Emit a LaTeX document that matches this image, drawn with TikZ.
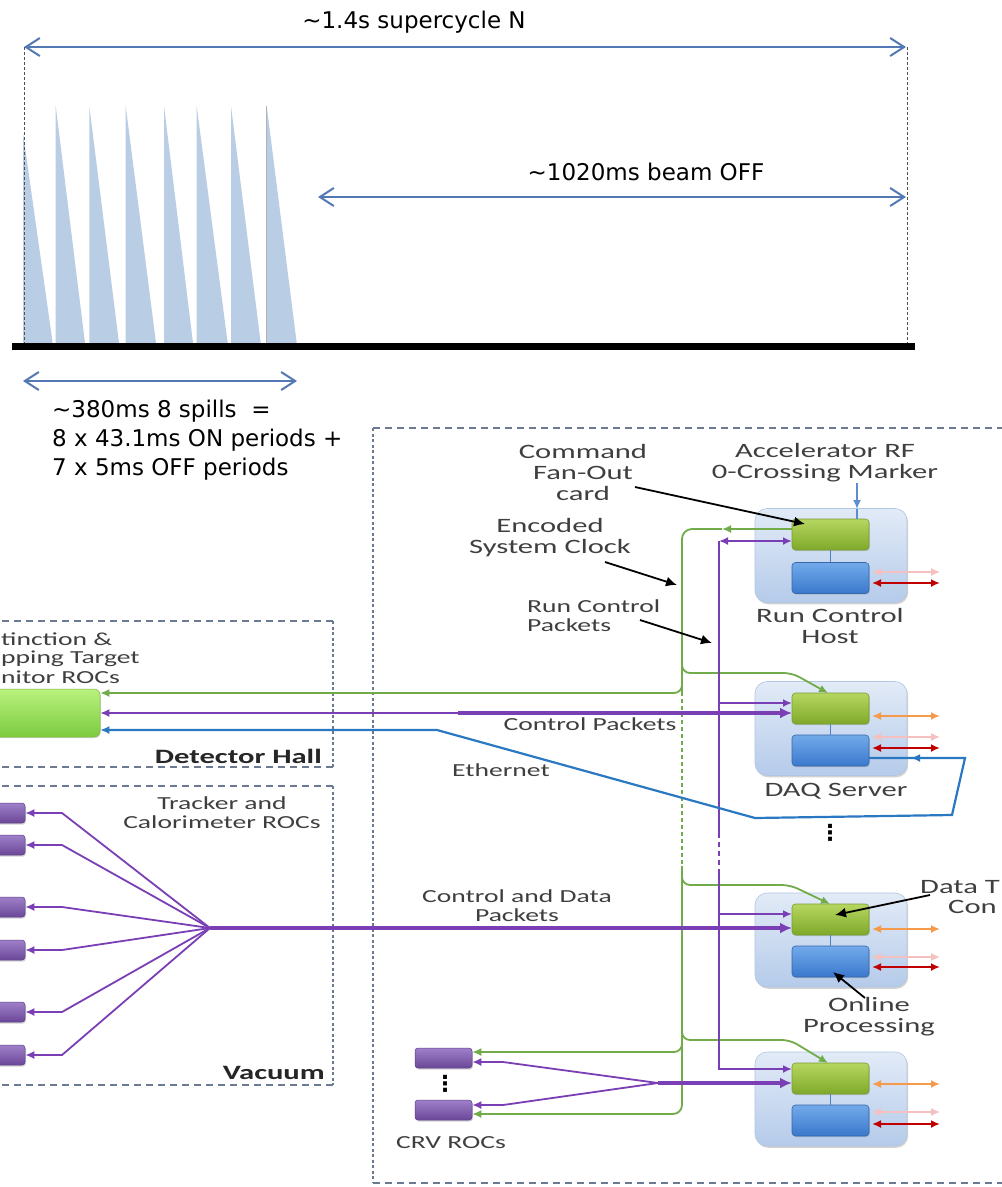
\documentclass[tikz,border=0pt]{standalone}
\usepackage{fontspec}
\setmainfont{DejaVu Sans}
\newfontfamily\topfont{DejaVu Sans}
\newfontfamily\lowfont[FakeStretch=1.5]{Carlito}
\usetikzlibrary{arrows.meta,shadows}
\definecolor{arrowblue}{HTML}{5379B5}
\definecolor{spike}{HTML}{B9CDE4}
\definecolor{dline}{HTML}{505050}
\definecolor{boxdash}{HTML}{6B7A92}
\definecolor{txt}{HTML}{3F3F3F}
\definecolor{txtdark}{HTML}{262626}
\definecolor{lgreen}{HTML}{72AC4A}
\definecolor{lpurple}{HTML}{7B3FB5}
\definecolor{lblue}{HTML}{2A78C2}
\definecolor{lorange}{HTML}{F5994A}
\definecolor{lred}{HTML}{C00000}
\definecolor{lpink}{HTML}{F4C0C0}
\definecolor{rfblue}{HTML}{5B8ED1}
\definecolor{hosttop}{HTML}{E2EBF7}
\definecolor{hostbot}{HTML}{B5CBEA}
\definecolor{hostedge}{HTML}{B0C6E3}
\definecolor{gctop}{HTML}{B6D660}
\definecolor{gcbot}{HTML}{7FA92A}
\definecolor{gcedge}{HTML}{7A9C35}
\definecolor{bctop}{HTML}{72AAEA}
\definecolor{bcbot}{HTML}{3A78CC}
\definecolor{bcedge}{HTML}{3567AA}
\definecolor{prtop}{HTML}{9F80C9}
\definecolor{prbot}{HTML}{6A4798}
\definecolor{predge}{HTML}{5E3F88}
\definecolor{extop}{HTML}{B9F27E}
\definecolor{exbot}{HTML}{7CCB40}
\definecolor{exedge}{HTML}{79B63F}
\definecolor{conn}{HTML}{4F81BD}
\tikzset{
  ts/.tip={Latex[length=9pt,width=8pt]},
  tb/.tip={Latex[length=12pt,width=11pt]},
  tbarb/.tip={Straight Barb[length=14pt,width=18pt]},
  tl/.style={font=\topfont\fontsize{23}{28}\selectfont, text=black, inner sep=0pt},
  lblS/.style={font=\lowfont\fontsize{18.4}{19}\selectfont, text=txt, inner sep=0pt, align=center},
  lblL/.style={font=\lowfont\fontsize{20.4}{21}\selectfont, text=txt, inner sep=0pt, align=center},
  lblB/.style={font=\lowfont\bfseries\fontsize{20.4}{21}\selectfont, text=txtdark, inner sep=0pt},
  dotsty/.style={font=\topfont\bfseries\fontsize{22}{22}\selectfont, text=black, inner sep=0pt},
  tarrow/.style={draw=arrowblue, line width=2pt, tbarb-tbarb},
  vdl/.style={draw=dline, line width=.8pt, dash pattern=on 3pt off 2pt},
  hdash/.style={draw=boxdash, line width=1.8pt, dash pattern=on 7pt off 5pt},
  vdash/.style={draw=boxdash, line width=1.8pt, dash pattern=on 3pt off 2.5pt},
  host/.style={draw=hostedge, line width=.6pt, rounded corners=12pt, top color=hosttop, bottom color=hostbot,
    minimum width=152pt, minimum height=94pt, inner sep=0pt,
    drop shadow={opacity=.35, shadow xshift=1.2pt, shadow yshift=-1.8pt}},
  gcard/.style={draw=gcedge, line width=.6pt, rounded corners=3.5pt, top color=gctop, bottom color=gcbot,
    minimum width=77pt, minimum height=31pt, inner sep=0pt,
    drop shadow={opacity=.3, shadow xshift=.8pt, shadow yshift=-1.2pt}},
  bcard/.style={draw=bcedge, line width=.6pt, rounded corners=3.5pt, top color=bctop, bottom color=bcbot,
    minimum width=77pt, minimum height=31pt, inner sep=0pt,
    drop shadow={opacity=.3, shadow xshift=.8pt, shadow yshift=-1.2pt}},
  proc/.style={draw=predge, line width=.5pt, rounded corners=3pt, top color=prtop, bottom color=prbot,
    minimum width=55pt, minimum height=20pt, inner sep=0pt,
    drop shadow={opacity=.35, shadow xshift=1pt, shadow yshift=-1.5pt}},
  exroc/.style={draw=exedge, line width=.5pt, rounded corners=6pt, top color=extop, bottom color=exbot,
    minimum width=120pt, minimum height=48pt, inner sep=0pt,
    drop shadow={opacity=.3, shadow xshift=.8pt, shadow yshift=-1.2pt}},
  gline/.style={draw=lgreen, line width=1.8pt},
  pthin/.style={draw=lpurple, line width=1.8pt},
  pthick/.style={draw=lpurple, line width=3.8pt},
  eline/.style={draw=lblue, line width=2.2pt},
  oarr/.style={draw=lorange, line width=1.8pt, ts-ts},
  rarr/.style={draw=lred, line width=2pt, ts-ts},
  parr/.style={draw=lpink, line width=1.4pt, ts-ts},
  barr/.style={draw=black, line width=1.8pt, -{Latex[length=11pt,width=10pt]}},
}
\begin{document}
\begin{tikzpicture}[x=1pt,y=-1pt]
\useasboundingbox (0,0) rectangle (1002,1187);
\clip (0,0) rectangle (1002,1187);
\fill[white] (0,0) rectangle (1002,1187);

% ---------------- timeline ----------------
\foreach \a/\t/\b in {23/133/52.7, 55.7/106/85, 89.3/106/119, 125.7/106/156, 164/106/193, 196.7/106/227.7, 231/106/260.7, 266.7/106/296.7}
  \fill[spike] (\a,\t) -- (\a,343) -- (\b,343) -- cycle;
\draw[gray!60, line width=.8pt] (266.7,106) -- (266.7,343);

\coordinate (tA) at (24,47);
\coordinate (tB) at (906,47);
\coordinate (tAb) at (24,343);
\coordinate (tBt) at (907,47);
\coordinate (tBb) at (907,343);
\coordinate (mA) at (318,197);
\coordinate (mB) at (906,197);
\coordinate (bA) at (23,381);
\coordinate (bB) at (297,381);
\coordinate (base1) at (12,346.5);
\coordinate (base2) at (915,346.5);

\draw[vdl] (tA) -- (tAb);
\draw[vdl] (tBt) -- (tBb);
\draw[line width=7pt] (base1) -- (base2);
\draw[tarrow] (tA) -- (tB);
\draw[tarrow] (mA) -- (mB);
\draw[tarrow] (bA) -- (bB);

\node[tl] (sc) at (414,22) {\textasciitilde1.4s supercycle N};
\node[tl] (off) at (646,172) {\textasciitilde1020ms beam OFF};
\node[tl, anchor=west] (l1) at (52,411) {\textasciitilde380ms 8 spills\ \ =};
\node[tl, anchor=west] (l2) at (52,440) {8 x 43.1ms ON periods +};
\node[tl, anchor=west] (l3) at (52,469) {7 x 5ms OFF periods};

% ---------------- dashed regions ----------------
\draw[hdash] (-10,621) -- (333,621);
\draw[vdash] (333,621) -- (333,767);
\draw[hdash] (333,767) -- (-10,767);
\draw[hdash] (-10,786) -- (333,786);
\draw[vdash] (333,786) -- (333,1085);
\draw[hdash] (333,1085) -- (-10,1085);
\draw[hdash] (373,428) -- (1010,428);
\draw[vdash] (373,428) -- (373,1183);
\draw[hdash] (373,1183) -- (1010,1183);

% ---------------- host boxes ----------------
\node[host] (rc) at (831,555.5) {};
\node[host] (daq) at (831,728.5) {};
\node[host] (dtc) at (831,940) {};
\node[host] (hb) at (831,1099) {};

% ---------------- ROCs ----------------
\node[exroc] (ext) at (40,713) {};
\foreach \i/\y in {1/813, 2/845, 3/907, 4/950, 5/1012, 6/1055}
  \node[proc] (tr\i) at (-2.5,\y) {};
\node[proc, minimum width=57pt] (crv1) at (443.5,1058) {};
\node[proc, minimum width=57pt] (crv2) at (443.5,1110) {};

% ---------------- coordinates for connectors ----------------
\coordinate (fan) at (210,928);
\coordinate (fan2) at (658,1083);
\coordinate (gv) at (682,529);
\coordinate (pv) at (719,541);
\coordinate (thk) at (458,713);
\coordinate (rf) at (857,483);

% ---------------- green clock lines ----------------
\draw[gline, -ts] (792,529) -- (722,529);
\draw[gline, rounded corners=10pt] (722,529) -- (gv) -- (682,692);
\draw[gline, dash pattern=on 4pt off 3pt] (682,692) -- (682,868);
\draw[gline, rounded corners=9pt, -ts] (682,866) -- (682,1114) -- (crv2.east |- 0,1114);
\draw[gline, rounded corners=8pt, -ts] (682,679) -- (682,693) -- (ext.east |- 0,693);
\draw[gline, rounded corners=8pt, -ts] (682,659) -- (682,673) -- (792,673) -- (828,693);
\draw[gline, rounded corners=8pt, -ts] (682,871) -- (682,885) -- (790,885) -- (830,904);
\draw[gline, rounded corners=8pt, -ts] (682,1026) -- (682,1040) -- (790,1040) -- (828,1063);
\draw[gline, rounded corners=8pt, -ts] (682,1038) -- (682,1052) -- (crv1.east |- 0,1052);

% ---------------- purple run control lines ----------------
\draw[pthin, ts-ts] (pv) -- (792,541);
\draw[pthin] (pv) -- (719,833);
\draw[pthin, dash pattern=on 5pt off 4pt] (719,833) -- (719,870);
\draw[pthin, -ts] (719,870) -- (719,1069) -- (792,1069);
\draw[pthin, -ts] (719,703) -- (792,703);
\draw[pthin, -ts] (719,914) -- (792,914);

% purple data lines
\draw[pthin, ts-] (ext.east |- 0,713) -- (thk);
\draw[pthick, -tb] (thk) -- (792,713);
\draw[pthick, -tb] (fan) -- (792,928);
\draw[pthick, -tb] (fan2) -- (792,1083);
\foreach \i/\y in {1/813, 2/845, 3/907, 4/950, 5/1012, 6/1055}
  \draw[pthin, -ts] (fan) -- (62,\y) -- (tr\i.east |- 0,\y);
\draw[pthin, -ts] (fan2) -- (503,1062) -- (crv1.east |- 0,1062);
\draw[pthin, -ts] (fan2) -- (503,1105) -- (crv2.east |- 0,1105);

% ---------------- ethernet ----------------
\draw[eline, ts-] (ext.east |- 0,730) -- (437,730) -- (755,818) -- (952,815) -- (965,758) -- (868,758);
\draw[eline, -ts] (930,758) -- (911,758);

% ---------------- cards ----------------
\node[gcard] (grc) at (830.5,534.5) {};
\node[bcard] (brc) at (830.5,578) {};
\node[gcard] (gdaq) at (830.5,708.5) {};
\node[bcard] (bdaq) at (830.5,750.5) {};
\node[gcard] (gdtc) at (830.5,919.5) {};
\node[bcard] (bdtc) at (830.5,961.5) {};
\node[gcard] (ghb) at (830.5,1078.5) {};
\node[bcard] (bhb) at (830.5,1120.5) {};
\foreach \g/\b in {grc/brc, gdaq/bdaq, gdtc/bdtc, ghb/bhb}
  \draw[conn, line width=1.5pt] (\g.south) -- (\b.north);

% RF marker
\draw[rfblue, line width=1.6pt, -ts] (rf) -- (857,509);
\draw[rfblue, line width=1.6pt] (857,509) -- (857,519);

% side arrows
\draw[parr] (872,572) -- (940,572);
\draw[rarr] (872,583) -- (940,583);
\draw[oarr] (872,716) -- (940,716);
\draw[parr] (872,737) -- (940,737);
\draw[rarr] (872,748) -- (940,748);
\draw[oarr] (872,929) -- (940,929);
\draw[parr] (872,957) -- (940,957);
\draw[rarr] (872,967) -- (940,967);
\draw[oarr] (872,1084) -- (940,1084);
\draw[parr] (872,1112) -- (940,1112);
\draw[rarr] (872,1124) -- (940,1124);

% ---------------- labels ----------------
\node[lblL] (cmd) at (583,472.5) {Command\\Fan-Out\\card};
\node[lblL] (acc) at (825,462.5) {Accelerator RF\\0-Crossing Marker};
\node[lblL] (enc) at (550,538) {Encoded\\System Clock};
\node[lblS, align=left, anchor=west] (rcp) at (527,616) {Run Control\\Packets};
\node[lblL] (rch) at (830,626) {Run Control\\Host};
\node[lblL] (daqt) at (836,791) {DAQ Server};
\node[lblL] (onl) at (869,1017) {Online\\Processing};
\node[lblL, anchor=east] (dt1) at (1000,887) {Data T};
\node[lblL, anchor=west] (dt2) at (948,907) {Con};
\node[lblS] (cp) at (590,724) {Control Packets};
\node[lblS] (eth) at (501,770) {Ethernet};
\node[lblS] (cdp) at (517,906) {Control and Data\\Packets};
\node[lblS] (tcr) at (222,813) {Tracker and\\Calorimeter ROCs};
\node[lblB, anchor=east] (dh) at (322,756) {Detector Hall};
\node[lblB, anchor=east] (vac) at (325,1073) {Vacuum};
\node[lblS] (crvt) at (451,1143) {CRV ROCs};
\node[lblS, anchor=west] (ex1) at (1,639) {tinction \&};
\node[lblS, anchor=west] (ex2) at (1,659) {pping Target};
\node[lblS, anchor=west] (ex3) at (1,677) {nitor ROCs};
\node[dotsty] (dd1) at (830,833) {⋮};
\node[dotsty] (dd2) at (445,1084) {⋮};

% pointer arrows
\coordinate (p1s) at (635,487);
\coordinate (p1e) at (805,524);
\coordinate (p2s) at (605,562);
\coordinate (p2e) at (677,585);
\coordinate (p3s) at (640,620);
\coordinate (p3e) at (712,643);
\coordinate (p4s) at (930,895);
\coordinate (p5s) at (865,998);
\draw[barr] (p1s) -- (p1e);
\draw[barr] (p2s) -- (p2e);
\draw[barr] (p3s) -- (p3e);
\draw[barr] (p4s) -- (835,915);
\draw[barr] (p5s) -- (833,972);
\end{tikzpicture}
\end{document}
